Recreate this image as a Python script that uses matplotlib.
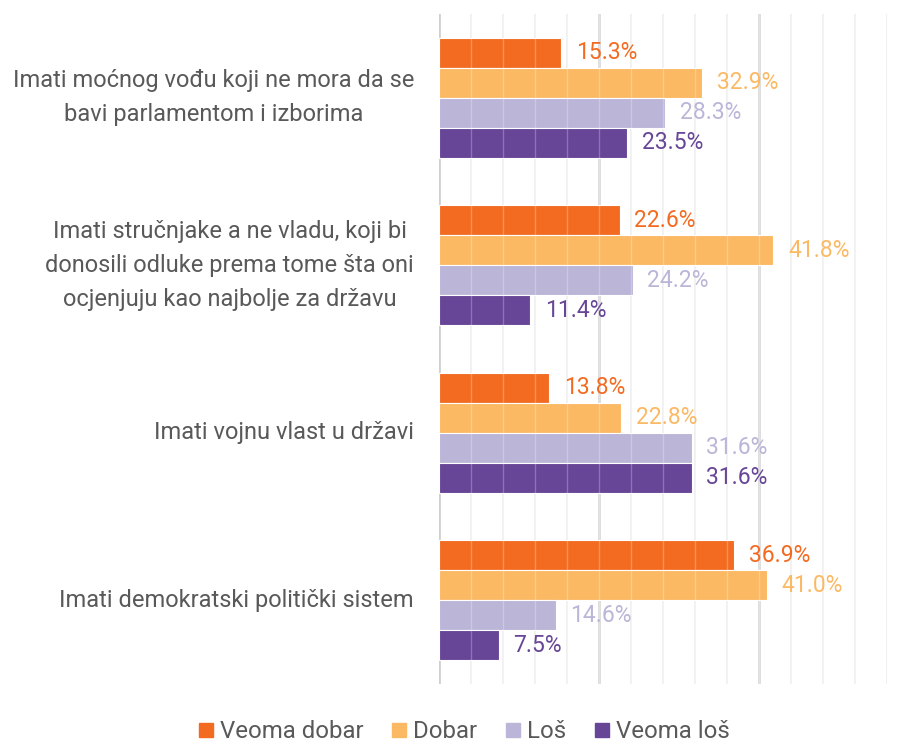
import matplotlib
matplotlib.use("Agg")
import matplotlib.pyplot as plt
from matplotlib.lines import Line2D
import numpy as np

plt.rcParams['font.family'] = ['Roboto', 'DejaVu Sans']

categories = [
    "Imati moćnog vođu koji ne mora da se\nbavi parlamentom i izborima",
    "Imati stručnjake a ne vladu, koji bi\ndonosili odluke prema tome šta oni\nocjenjuju kao najbolje za državu",
    "Imati vojnu vlast u državi",
    "Imati demokratski politički sistem",
]
series_names = ["Veoma dobar", "Dobar", "Loš", "Veoma loš"]
veoma_dobar = [15.3, 22.6, 13.8, 36.9]
dobar = [32.9, 41.8, 22.8, 41.0]
los = [28.3, 24.2, 31.6, 14.6]
veoma_los = [23.5, 11.4, 31.6, 7.5]
series_values = [veoma_dobar, dobar, los, veoma_los]
colors = ["#F26B21", "#FBB964", "#BBB5D8", "#674597"]

fig = plt.figure(figsize=(9.09, 7.42), dpi=100)
ax = fig.add_axes([439/909, 1-684/742, (887-439)/909, (684-14)/742])

n = len(categories)
bh = 0.179
ypos = np.arange(n)

# grid behind bars
for x in range(4, 57, 4):
    major = (x % 20 == 0)
    ax.axvline(x, color="#D9D9D9" if major else "#EEEEEE", lw=2.0 if major else 1.2, zorder=0)
ax.axvline(0, color="#D0D0D0", lw=2.0, zorder=0)

for i, (name, vals, c) in enumerate(zip(series_names, series_values, colors)):
    y = ypos + (i - 1.5) * bh
    ax.barh(y, vals, height=bh, color=c, edgecolor="white", linewidth=0.8, zorder=2, label=name)
    for yy, v in zip(y, vals):
        ax.annotate(f"{v:.1f}%", (v, yy), xytext=(10.5, 0), textcoords="offset points",
                    va="center", ha="left", color=c, fontsize=16.5, zorder=5)

# faint lighter lines over bars
for x in range(4, 57, 4):
    ax.axvline(x, color="white", lw=1.0, alpha=0.25, zorder=3)

ax.set_xlim(0, 56)
ax.set_ylim(n - 0.5, -0.5)
ax.set_yticks(ypos)
ax.set_yticklabels(categories, fontsize=17, color="#595959", multialignment="center", linespacing=1.6)
for t in ax.get_yticklabels():
    t.set_va("center")
ax.tick_params(axis="y", length=0, pad=18)
ax.set_xticks([])
for s in ax.spines.values():
    s.set_visible(False)

handles = [Line2D([0], [0], marker="s", color="none", markerfacecolor=c, markeredgecolor=c, markersize=10)
           for c in colors]
fig.legend(handles, series_names, loc="center", bbox_to_anchor=(463/909, 1-732/742), ncol=4,
           frameon=False, fontsize=17.3, labelcolor="#595959", handletextpad=0.2, columnspacing=1.07,
           handlelength=0.8, borderpad=0)

fig.savefig("out.png", dpi=100)
